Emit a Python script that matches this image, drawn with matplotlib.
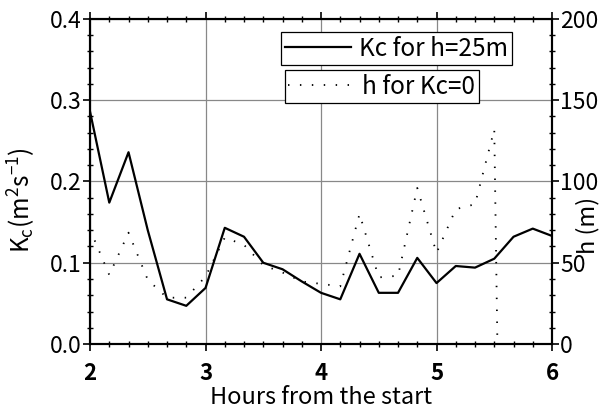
import numpy as np
import matplotlib
matplotlib.use("Agg")
import matplotlib.pyplot as plt
from matplotlib.ticker import MultipleLocator, FormatStrFormatter

plt.rcParams['font.family'] = ['Noto Sans CJK JP', 'DejaVu Sans']
plt.rcParams['mathtext.fontset'] = 'custom'
plt.rcParams['mathtext.rm'] = 'Noto Sans CJK JP'
plt.rcParams['axes.unicode_minus'] = False

# hours from the start (10 min steps)
hours = [2.0, 2.1667, 2.3333, 2.5, 2.6667, 2.8333, 3.0, 3.1667, 3.3333, 3.5,
         3.6667, 3.8333, 4.0, 4.1667, 4.3333, 4.5, 4.6667, 4.8333, 5.0, 5.1667,
         5.3333, 5.5, 5.6667, 5.8333, 6.0]
# Kc for h=25m
kc = [0.286, 0.174, 0.236, 0.140, 0.055, 0.047, 0.069, 0.143, 0.132, 0.100,
      0.092, 0.077, 0.063, 0.055, 0.111, 0.063, 0.063, 0.106, 0.075, 0.096,
      0.094, 0.105, 0.132, 0.142, 0.133]
# h for Kc=0 (m)
h = [70.5, 42.5, 68.5, 39.5, 28.5, 28.5, 41.5, 65.5, 61.0, 48.5,
     44.0, 38.5, 37.0, 35.5, 80.0, 41.0, 42.0, 96.0, 56.0, 83.0,
     86.0, 132.0, -680.0, np.nan, np.nan]

fig = plt.figure(figsize=(6.01, 4.12), dpi=100)
ax = fig.add_axes([0.1498, 0.165, 0.7687, 0.789])
ax2 = ax.twinx()

ax.plot(hours, kc, color='black', lw=1.6, label='Kc for h=25m')
ax2.plot(hours, h, color='black', lw=1.3, dashes=(0.8, 5.8), label='h for Kc=0')

ax.set_xlim(2, 6)
ax.set_ylim(0, 0.4)
ax2.set_ylim(0, 200)
ax.xaxis.set_major_locator(MultipleLocator(1))
ax.xaxis.set_minor_locator(MultipleLocator(1 / 6))
ax.yaxis.set_major_locator(MultipleLocator(0.1))
ax.yaxis.set_minor_locator(MultipleLocator(0.02))
ax2.yaxis.set_major_locator(MultipleLocator(50))
ax2.yaxis.set_minor_locator(MultipleLocator(10))
ax.yaxis.set_major_formatter(FormatStrFormatter('%.1f'))

ax.grid(True, which='major', color='#888888', lw=0.9)
for a in (ax, ax2):
    for s in a.spines.values():
        s.set_linewidth(1.5)
    a.tick_params(which='major', direction='out', length=5, width=1.2, labelsize=16.5)
    a.tick_params(which='minor', direction='inout', length=4, width=1.0)
ax.tick_params(axis='x', which='both', top=True)
ax.tick_params(axis='x', which='major', labelsize=16, pad=8)
ax.tick_params(axis='y', which='major', pad=1)
ax2.tick_params(axis='y', which='major', pad=1)
for lbl in ax.get_xticklabels():
    lbl.set_fontweight('bold')

ax.set_xlabel('Hours from the start', fontsize=17)
ax.xaxis.set_label_coords(0.5, -0.128)
ax.set_ylabel(r'K$_\mathregular{c}$(m$^\mathregular{2}$s$^\mathregular{-1}$)', fontsize=17.5)
ax.yaxis.set_label_coords(-0.113, 0.443)
ax2.set_ylabel('h (m)', fontsize=17)
ax2.yaxis.set_label_coords(1.052, 0.365)

leg_kw = dict(loc='upper right', borderaxespad=0, fancybox=False, edgecolor='black',
              framealpha=1, fontsize=17.5, handlelength=2.7, handletextpad=0.35,
              borderpad=0.15)
leg1 = ax2.legend(handles=ax.get_lines(), bbox_to_anchor=(0.913, 0.96), **leg_kw)
leg1.get_frame().set_linewidth(0.9)
ax2.add_artist(leg1)
leg2 = ax2.legend(handles=ax2.get_lines(), bbox_to_anchor=(0.842, 0.843), **leg_kw)
leg2.get_frame().set_linewidth(0.9)

fig.savefig('out.png', dpi=100)
